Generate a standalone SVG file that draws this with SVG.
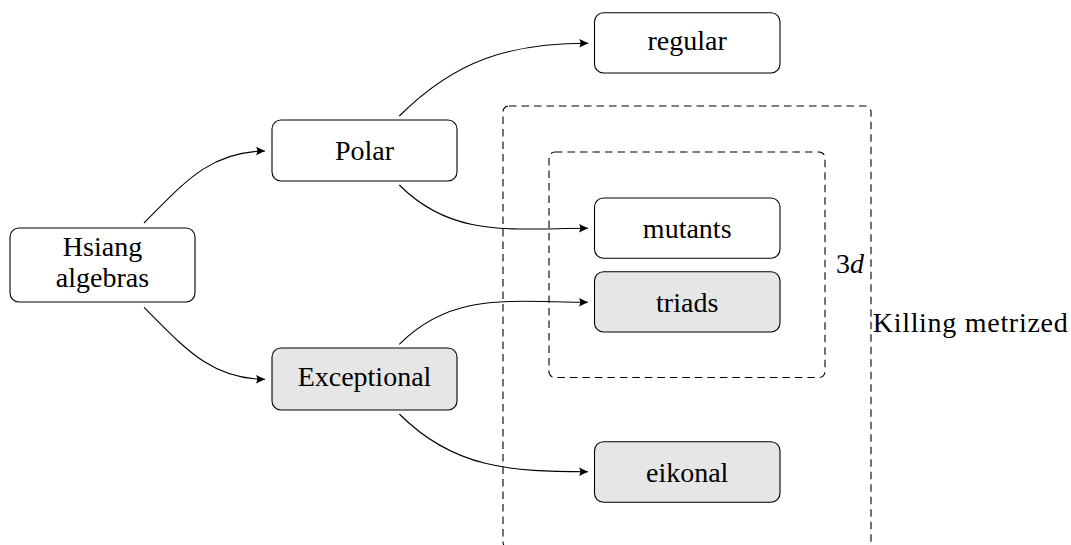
<svg xmlns="http://www.w3.org/2000/svg" width="1071" height="545" viewBox="0 0 1071 545">
<style>
.box{fill:#ffffff;stroke:#000;stroke-width:1.1}
.gray{fill:#e6e6e6}
text{font-family:'Liberation Serif','Times New Roman',serif;font-size:28px;fill:#000;text-anchor:middle}
.c{fill:none;stroke:#000;stroke-width:1.1}
.dash{fill:none;stroke:#000;stroke-width:1.1;stroke-dasharray:7.5 5}
</style>
<defs>
<marker id="arr" viewBox="-10 -5 11 10" refX="0" refY="0" markerWidth="11" markerHeight="10" markerUnits="userSpaceOnUse" orient="auto">
<path d="M0,0 L-9,-4.2 Q-6.5,0 -9,4.2 Z" fill="#000"/>
</marker>
</defs>
<g id="group-killing">
<rect class="dash" x="503" y="106" width="368" height="442" rx="6"/>
<text x="872.7" y="332.3" style="text-anchor:start" textLength="195">Killing metrized</text>
</g>
<g id="group-3d">
<rect class="dash" x="549" y="152" width="276" height="225.5" rx="6"/>
<text x="850" y="273.3"><tspan>3</tspan><tspan font-style="italic">d</tspan></text>
</g>
<g id="connectors">
<path class="c" marker-end="url(#arr)" d="M144,223 C183,184 210,151 265,151"/>
<path class="c" marker-end="url(#arr)" d="M144,307.3 C183,346 210,379.3 265,379.3"/>
<path class="c" marker-end="url(#arr)" d="M399.3,116 C455.4,60 509,43.3 588.3,43.3"/>
<path class="c" marker-end="url(#arr)" d="M399.3,185 C452.9,238.6 512,228.3 588,228.3"/>
<path class="c" marker-end="url(#arr)" d="M399.3,344.3 C452.8,290.8 512.3,302.3 588,302.3"/>
<path class="c" marker-end="url(#arr)" d="M399.3,414 C453.9,468.6 510.8,471.7 588,471.7"/>
</g>
<g id="hsiang">
<rect class="box" x="10" y="228" width="185" height="74" rx="9"/>
<text x="102.5" y="256">Hsiang</text>
<text x="102.5" y="286.7">algebras</text>
</g>
<g id="polar">
<rect class="box" x="272" y="120" width="185" height="61" rx="9"/>
<text x="364.5" y="160">Polar</text>
</g>
<g id="exceptional">
<rect class="box gray" x="272" y="348" width="185" height="62" rx="9"/>
<text x="364.5" y="386">Exceptional</text>
</g>
<g id="regular">
<rect class="box" x="594.5" y="12.7" width="185.5" height="60.3" rx="9"/>
<text x="687.2" y="50">regular</text>
</g>
<g id="mutants">
<rect class="box" x="594.5" y="198" width="185.5" height="60.3" rx="9"/>
<text x="687.2" y="237.5">mutants</text>
</g>
<g id="triads">
<rect class="box gray" x="594.5" y="271.7" width="185.5" height="60.3" rx="9"/>
<text x="687.2" y="311.5">triads</text>
</g>
<g id="eikonal">
<rect class="box gray" x="594.5" y="441.7" width="185.5" height="60.6" rx="9"/>
<text x="687.2" y="481.5">eikonal</text>
</g>
</svg>
